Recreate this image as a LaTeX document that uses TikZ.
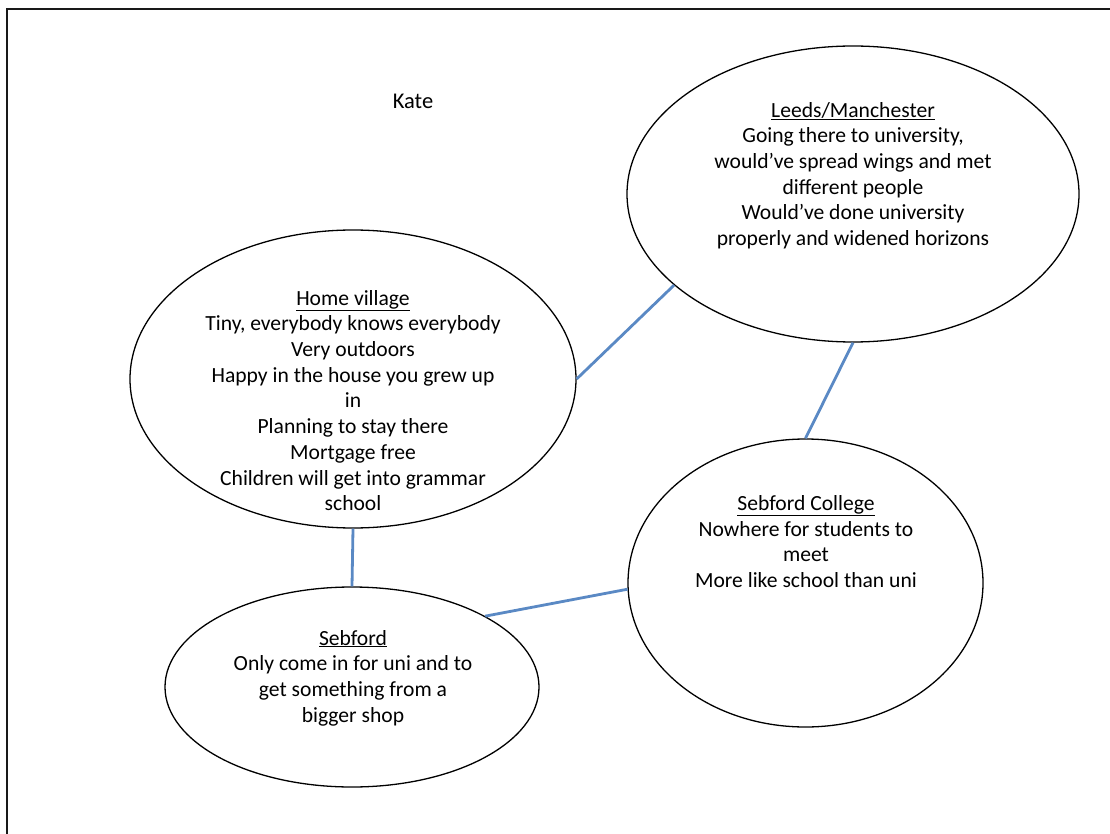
\documentclass[tikz,border=0pt]{standalone}
\usepackage{fontspec}
\setmainfont{Carlito}
\usetikzlibrary{shapes.geometric}
\definecolor{linkblue}{HTML}{5A89C4}
\tikzset{
  place/.style={draw=black, line width=1.3pt, ellipse, inner sep=0pt, fill=white},
  notes/.style={align=center, font=\fontsize{21.6}{25.7}\selectfont, inner sep=0pt},
  link/.style={draw=linkblue, line width=2.8pt},
}
\newcommand{\hd}[1]{\underline{#1}}
\begin{document}
\begin{tikzpicture}[x=1pt, y=-1pt]
  \useasboundingbox (0,0) rectangle (1110,834);
  % page frame (top and left edges)
  \draw[line width=2.2pt, black!90] (7,834) -- (7,9) -- (1110,9);

  \node[notes, font=\fontsize{22.5}{26}\selectfont] (kate) at (413,101) {Kate};

  % places
  \node[place, minimum width=446pt, minimum height=298pt] (home) at (353,379) {};
  \node[place, minimum width=452pt, minimum height=296pt] (leeds) at (853,194) {};
  \node[place, minimum width=355pt, minimum height=288pt] (college) at (805.5,583) {};
  \node[place, minimum width=374pt, minimum height=200pt] (sebford) at (352,687) {};

  % connections
  \draw[link] (home.east) -- (leeds.207);
  \draw[link] (leeds.south) -- (college.north);
  \draw[link] (home.south) -- (sebford.north);
  \draw[link] (sebford.28) -- (college.182);

  % notes
  \node[notes] (homet) at (353,400.5) {\hd{Home village}\\Tiny, everybody knows everybody\\Very outdoors\\Happy in the house you grew up\\in\\Planning to stay there\\Mortgage free\\Children will get into grammar\\school};
  \node[notes] (leedst) at (853,175.5) {\hd{Leeds/Manchester}\\Going there to university,\\would’ve spread wings and met\\different people\\Would’ve done university\\properly and widened horizons};
  \node[notes] (colleget) at (806,541.5) {\hd{Sebford College}\\Nowhere for students to\\meet\\More like school than uni};
  \node[notes] (sebfordt) at (353,678) {\hd{Sebford}\\Only come in for uni and to\\get something from a\\bigger shop};
\end{tikzpicture}
\end{document}
